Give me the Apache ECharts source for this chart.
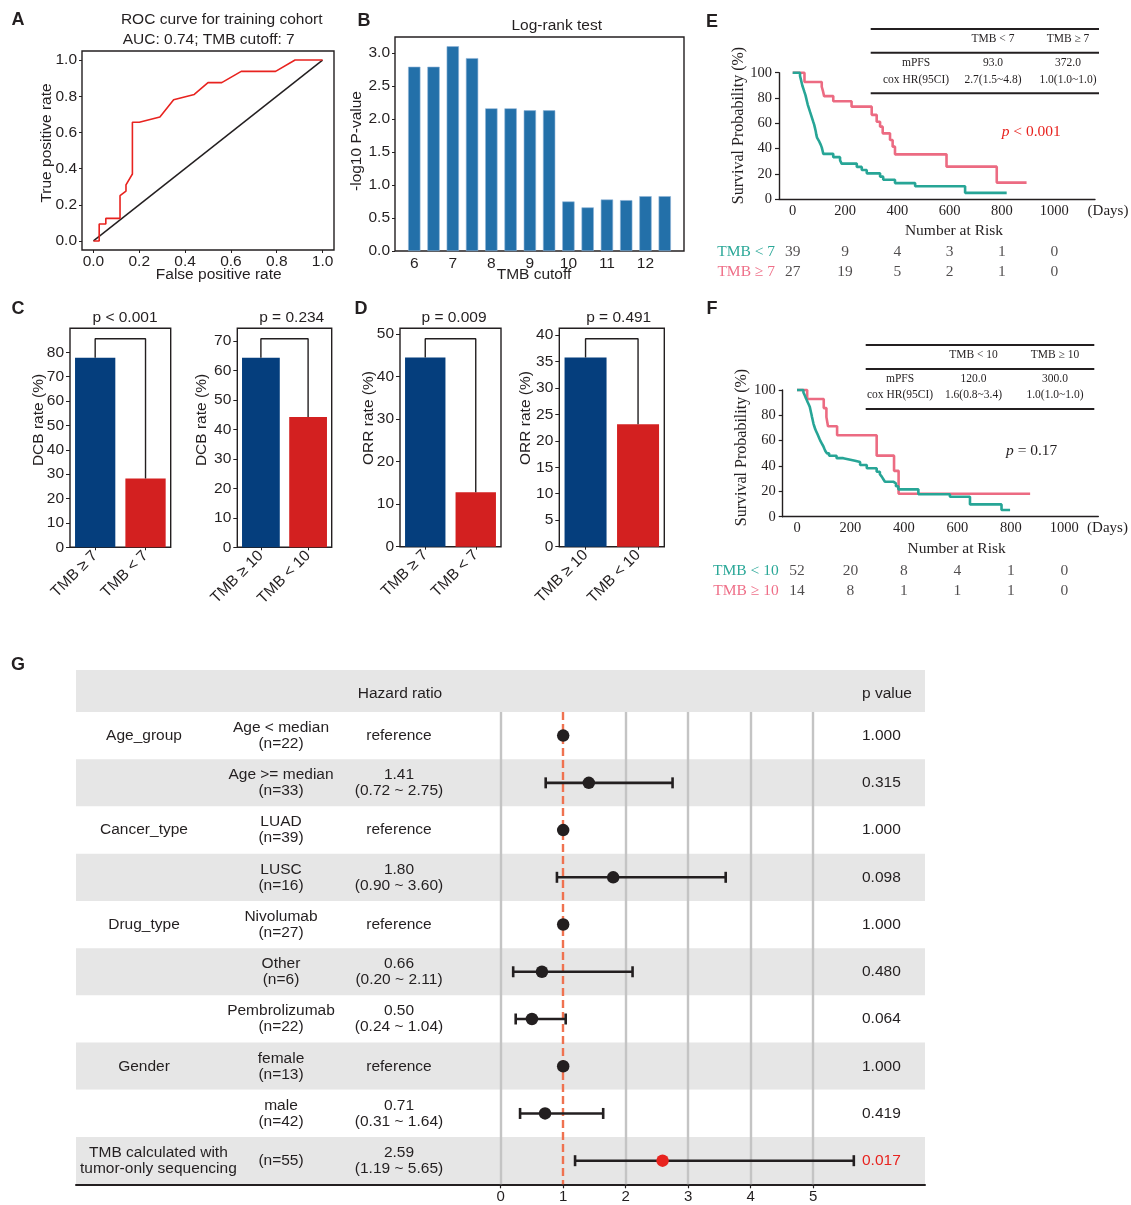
<!DOCTYPE html>
<html>
<head>
<meta charset="utf-8">
<title>TMB cutoff, response and survival analysis</title>
<script src="https://cdn.jsdelivr.net/npm/echarts@6.0.0/dist/echarts.min.js"></script>
<style>
  html, body { margin: 0; padding: 0; background: #ffffff; }
  #chart { width: 1131px; height: 1205px; }
</style>
</head>
<body>
<div id="chart"></div>
<script>
// ---------------- A: ROC curve, training cohort ----------------
const rocFpr = [0, 0.025, 0.025, 0.054, 0.054, 0.116, 0.116, 0.142, 0.142, 0.17, 0.17, 0.20, 0.29, 0.35, 0.44, 0.50, 0.56, 0.645, 0.795, 0.88, 1.0];
const rocTpr = [0, 0, 0.094, 0.094, 0.125, 0.125, 0.25, 0.276, 0.31, 0.37, 0.656, 0.656, 0.685, 0.78, 0.81, 0.875, 0.875, 0.9375, 0.9375, 1.0, 1.0];
const chanceLine = [[0, 0], [1, 1]];
const rocTicks = [0, 0.2, 0.4, 0.6, 0.8, 1.0];

// ---------------- B: log-rank test over TMB cutoffs ----------------
const cutoffs = [6, 6.5, 7, 7.5, 8, 8.5, 9, 9.5, 10, 10.5, 11, 11.5, 12, 12.5];
const logrankScore = [2.79, 2.79, 3.10, 2.92, 2.16, 2.16, 2.13, 2.13, 0.75, 0.66, 0.78, 0.77, 0.83, 0.83];
const cutoffTicks = [6, 7, 8, 9, 10, 11, 12];
const logrankTicks = [0, 0.5, 1.0, 1.5, 2.0, 2.5, 3.0];

// ---------------- C / D: DCB and ORR rates ----------------
const groups7 = ['TMB \u2265 7', 'TMB < 7'];
const groups10 = ['TMB \u2265 10', 'TMB < 10'];
const dcb7 = [77.8, 28.2];
const dcb10 = [64.3, 44.2];
const orr7 = [44.4, 12.8];
const orr10 = [35.7, 23.1];
const pLabels = ['p < 0.001', 'p = 0.234', 'p = 0.009', 'p = 0.491'];
const dcbTicks7 = [0, 10, 20, 30, 40, 50, 60, 70, 80];
const dcbTicks10 = [0, 10, 20, 30, 40, 50, 60, 70];
const orrTicks7 = [0, 10, 20, 30, 40, 50];
const orrTicks10 = [0, 5, 10, 15, 20, 25, 30, 35, 40];

// ---------------- E / F: Kaplan-Meier PFS ----------------
const kmE_low = [[0,100],[28,97.4],[31,94.9],[34,92.3],[37,89.7],[41,87.2],[45,84.6],[49,82.1],[52,79.5],[55,76.9],[58,74.4],[62,71.8],[66,69.2],[70,66.7],[74,64.1],[78,61.5],[82,59.0],[85,56.4],[88,53.8],[90,51.3],[93,48.7],[100,46.2],[106,43.6],[111,41.0],[114,38.5],[117,35.9],[155,33.3],[181,30.8],[187,28.2],[245,25.6],[264,23.1],[283,20.5],[334,17.9],[346,15.4],[391,12.8],[468,10.3],[659,5.1],[818,5.1]];
const kmE_high = [[0,100],[45,92.6],[111,88.9],[116,85.2],[120,81.5],[155,77.4],[225,73.2],[302,66.7],[321,61.3],[334,57.4],[344,52.1],[372,46.8],[382,41.6],[391,35.5],[588,25.8],[780,13.2],[894,13.2]];
const kmF_low = [[0,100],[24,98.1],[28,96.2],[32,94.2],[36,92.3],[40,90.4],[44,88.5],[48,86.5],[50,84.6],[52,82.7],[54,80.8],[56,78.8],[58,76.9],[60,75.0],[62,73.1],[65,71.2],[68,69.2],[72,67.3],[76,65.4],[80,63.5],[84,61.5],[88,59.6],[93,57.7],[98,55.8],[102,53.8],[106,51.9],[112,50.0],[120,48.1],[148,46.2],[173,45.2],[195,44.2],[217,43.2],[236,40.8],[261,38.2],[298,35.5],[310,33.5],[317,31.6],[323,29.6],[329,27.6],[360,26.3],[370,24.0],[379,21.6],[454,17.7],[572,15.8],[647,9.7],[765,5.3],[797,5.3]];
const kmF_high = [[0,100],[38,92.9],[100,85.7],[110,78.6],[116,71.4],[150,64.3],[298,48.2],[363,36.2],[380,18.1],[872,18.1]];
const kmDayTicks = [0, 200, 400, 600, 800, 1000];
const kmPctTicks = [0, 20, 40, 60, 80, 100];

const riskDays = [0, 200, 400, 600, 800, 1000];
const riskGroupsE = ['TMB < 7', 'TMB \u2265 7'];
const riskE_low = [39, 9, 4, 3, 1, 0];
const riskE_high = [27, 19, 5, 2, 1, 0];
const riskGroupsF = ['TMB < 10', 'TMB \u2265 10'];
const riskF_low = [52, 20, 8, 4, 1, 0];
const riskF_high = [14, 8, 1, 1, 1, 0];

const tableE_head = ['', 'TMB < 7', 'TMB \u2265 7'];
const tableE_mpfs = ['mPFS', '93.0', '372.0'];
const tableE_cox = ['cox HR(95CI)', '2.7(1.5~4.8)', '1.0(1.0~1.0)'];
const tableF_head = ['', 'TMB < 10', 'TMB \u2265 10'];
const tableF_mpfs = ['mPFS', '120.0', '300.0'];
const tableF_cox = ['cox HR(95CI)', '1.6(0.8~3.4)', '1.0(1.0~1.0)'];

// ---------------- G: multivariable Cox forest ----------------
const forestGroup = ['Age_group', '', 'Cancer_type', '', 'Drug_type', '', '', 'Gender', '', 'TMB calculated with\ntumor-only sequencing'];
const forestSub = ['Age < median\n(n=22)', 'Age >= median\n(n=33)', 'LUAD\n(n=39)', 'LUSC\n(n=16)', 'Nivolumab\n(n=27)', 'Other\n(n=6)', 'Pembrolizumab\n(n=22)', 'female\n(n=13)', 'male\n(n=42)', '(n=55)'];
const forestHR = [1, 1.41, 1, 1.80, 1, 0.66, 0.50, 1, 0.71, 2.59];
const forestLo = [null, 0.72, null, 0.90, null, 0.20, 0.24, null, 0.31, 1.19];
const forestHi = [null, 2.75, null, 3.60, null, 2.11, 1.04, null, 1.64, 5.65];
const forestP = ['1.000', '0.315', '1.000', '0.098', '1.000', '0.480', '0.064', '1.000', '0.419', '0.017'];
const forestTicks = [0, 1, 2, 3, 4, 5];

// ---------------- styling ----------------
const INK = '#231f20';
const SANS = '"Liberation Sans", Arial, Helvetica, sans-serif';
const SERIF = '"Liberation Serif", "Times New Roman", Times, serif';
const TEAL = '#27a596';
const PINK = '#ec6b82';
const TEAL_TXT = '#2aa898';
const PINK_TXT = '#ef6f88';
const SIG_RED = '#e8231f';
const NAVY = '#053e7d';
const BAR_RED = '#d32020';
const BAR_BLUE = '#2370a9';
const STRIPE = '#e6e6e6';

const grid = [], xAxis = [], yAxis = [], series = [], graphic = [];

function frameGrid(box) {
  return Object.assign({ show: true, borderColor: INK, borderWidth: 1.4, backgroundColor: 'transparent', containLabel: false, outerBoundsMode: 'none' }, box);
}
function plainGrid(box) {
  return Object.assign({ show: false, containLabel: false, outerBoundsMode: 'none' }, box);
}
function font(size, family, extra) {
  return Object.assign({ fontSize: size, fontFamily: family, color: INK }, extra || {});
}
const hiddenLine = { show: false, onZero: false };
function inkLine(w) {
  return { show: true, onZero: false, lineStyle: { color: INK, width: w } };
}
function gText(x, y, text, o) {
  o = o || {};
  const align = o.align || 'center';
  return {
    type: 'text', x: x, y: y, z: 20, silent: true,
    rotation: o.rotate ? Math.PI / 2 : 0,
    style: {
      text: text,
      fill: o.color || INK,
      fontSize: o.size || 15.5,
      fontFamily: o.family || SANS,
      fontWeight: o.bold ? 'bold' : 'normal',
      fontStyle: o.italic ? 'italic' : 'normal',
      align: align, textAlign: align,
      verticalAlign: 'middle', textVerticalAlign: 'middle',
      lineHeight: o.lineHeight,
      rich: o.rich
    }
  };
}
function gLine(x1, y1, x2, y2, w) {
  return { type: 'line', z: 20, silent: true, shape: { x1: x1, y1: y1, x2: x2, y2: y2 }, style: { stroke: INK, lineWidth: w || 1.4 } };
}

// ---- A ----
grid.push(frameGrid({ left: 82, top: 51, width: 252, height: 199 }));
xAxis.push({
  gridIndex: 0, type: 'value', min: -0.05, max: 1.05,
  axisLine: hiddenLine,
  axisTick: { show: true, customValues: rocTicks, length: 3, lineStyle: { color: INK } },
  axisLabel: font(15.5, SANS, { customValues: rocTicks, margin: 4, formatter: v => v.toFixed(1) }),
  splitLine: { show: false }
});
yAxis.push({
  gridIndex: 0, type: 'value', min: -0.05, max: 1.05,
  axisLine: hiddenLine,
  axisTick: { show: true, customValues: rocTicks, length: 3, lineStyle: { color: INK } },
  axisLabel: font(15.5, SANS, { customValues: rocTicks, margin: 5, formatter: v => v.toFixed(1) }),
  splitLine: { show: false }
});
series.push({ type: 'line', xAxisIndex: 0, yAxisIndex: 0, data: chanceLine, showSymbol: false, symbol: 'none', lineStyle: { color: INK, width: 1.5 }, silent: true });
series.push({ type: 'line', xAxisIndex: 0, yAxisIndex: 0, data: rocFpr.map((x, i) => [x, rocTpr[i]]), showSymbol: false, symbol: 'none', lineStyle: { color: SIG_RED, width: 1.6 }, silent: true });

// ---- B ----
grid.push(frameGrid({ left: 395, top: 37, width: 289, height: 214 }));
xAxis.push({
  gridIndex: 1, type: 'value', min: 5.5, max: 13,
  axisLine: hiddenLine, axisTick: { show: false },
  axisLabel: font(15.5, SANS, { customValues: cutoffTicks, margin: 5 }),
  splitLine: { show: false }
});
yAxis.push({
  gridIndex: 1, type: 'value', min: 0, max: 3.24,
  axisLine: hiddenLine,
  axisTick: { show: true, customValues: logrankTicks, length: 3, lineStyle: { color: INK } },
  axisLabel: font(15.5, SANS, { customValues: logrankTicks, margin: 5, formatter: v => v.toFixed(1) }),
  splitLine: { show: false }
});
series.push({
  type: 'bar', xAxisIndex: 1, yAxisIndex: 1, barWidth: 12.3, silent: true,
  data: cutoffs.map((c, i) => [c, logrankScore[i]]),
  itemStyle: { color: BAR_BLUE, borderColor: '#8fb4d6', borderWidth: 0.6 }
});

// ---- C / D ----
function ratePanel(gi, box, cats, vals, ticks) {
  const bracket = Math.max.apply(null, vals) * 1.1;
  const yMax = bracket * 1.05;
  grid.push(frameGrid(box));
  xAxis.push({
    gridIndex: gi, type: 'category', data: cats,
    axisLine: hiddenLine,
    axisTick: { show: true, alignWithLabel: true, length: 3, lineStyle: { color: INK } },
    axisLabel: font(15.5, SANS, { rotate: 45, margin: 6, interval: 0 }),
    splitLine: { show: false }
  });
  yAxis.push({
    gridIndex: gi, type: 'value', min: 0, max: yMax,
    axisLine: hiddenLine,
    axisTick: { show: true, customValues: ticks, length: 4, lineStyle: { color: INK } },
    axisLabel: font(15.5, SANS, { customValues: ticks, margin: 6 }),
    splitLine: { show: false }
  });
  series.push({
    type: 'bar', xAxisIndex: gi, yAxisIndex: gi, barCategoryGap: '20%', silent: true,
    data: vals.map((v, i) => ({ value: v, itemStyle: { color: i === 0 ? NAVY : BAR_RED } }))
  });
  series.push({
    type: 'line', xAxisIndex: gi, yAxisIndex: gi, showSymbol: false, symbol: 'none', silent: true,
    data: [[0, vals[0]], [0, bracket], [1, bracket], [1, vals[1]]],
    lineStyle: { color: INK, width: 1.4 }
  });
}
ratePanel(2, { left: 70, top: 328.3, width: 100.7, height: 219 }, groups7, dcb7, dcbTicks7);
ratePanel(3, { left: 237.3, top: 328.3, width: 94.4, height: 219 }, groups10, dcb10, dcbTicks10);
ratePanel(4, { left: 400, top: 328.3, width: 101, height: 218.4 }, groups7, orr7, orrTicks7);
ratePanel(5, { left: 559.3, top: 328.3, width: 105, height: 218.4 }, groups10, orr10, orrTicks10);

// ---- E / F ----
function kmPanel(gi, box, xMin, xMax, low, high) {
  grid.push(plainGrid(box));
  xAxis.push({
    gridIndex: gi, type: 'value', min: xMin, max: xMax,
    axisLine: inkLine(1.4),
    axisTick: { show: false },
    axisLabel: font(14.5, SERIF, { customValues: kmDayTicks, margin: 4, formatter: v => String(v) }),
    splitLine: { show: false }
  });
  yAxis.push({
    gridIndex: gi, type: 'value', min: 0, max: 100,
    axisLine: inkLine(1.4),
    axisTick: { show: true, customValues: kmPctTicks, length: 4, lineStyle: { color: INK, width: 1.2 } },
    axisLabel: font(14.5, SERIF, { customValues: kmPctTicks, margin: 7, formatter: v => String(v) }),
    splitLine: { show: false }
  });
  series.push({ type: 'line', xAxisIndex: gi, yAxisIndex: gi, step: 'end', data: high, showSymbol: false, symbol: 'none', clip: false, silent: true, lineStyle: { color: PINK, width: 2.6 } });
  series.push({ type: 'line', xAxisIndex: gi, yAxisIndex: gi, step: 'end', data: low, showSymbol: false, symbol: 'none', clip: false, silent: true, lineStyle: { color: TEAL, width: 2.6 } });
}
function riskPanel(gi, box, xMin, xMax, names, low, high) {
  grid.push(plainGrid(box));
  xAxis.push({ gridIndex: gi, type: 'value', min: xMin, max: xMax, show: false, axisLine: hiddenLine });
  yAxis.push({
    gridIndex: gi, type: 'category', inverse: true, data: names,
    axisLine: hiddenLine, axisTick: { show: false },
    axisLabel: {
      margin: 4, interval: 0,
      formatter: (v, idx) => idx === 0 ? '{lo|' + v + '}' : '{hi|' + v + '}',
      rich: {
        lo: { color: TEAL_TXT, fontSize: 15.5, fontFamily: SERIF },
        hi: { color: PINK_TXT, fontSize: 15.5, fontFamily: SERIF }
      }
    },
    splitLine: { show: false }
  });
  [low, high].forEach((counts, row) => {
    series.push({
      type: 'scatter', xAxisIndex: gi, yAxisIndex: gi, symbolSize: 1, silent: true,
      itemStyle: { color: 'rgba(0,0,0,0)' },
      data: riskDays.map((d, j) => [d, row, counts[j]]),
      label: { show: true, position: 'inside', formatter: p => String(p.value[2]), color: INK, fontSize: 15.5, fontFamily: SERIF }
    });
  });
}
kmPanel(6, { left: 779, top: 72.7, width: 316, height: 126.6 }, -52.4, 1155.6, kmE_low, kmE_high);
riskPanel(7, { left: 779, top: 242, width: 316, height: 40 }, -52.4, 1155.6, riskGroupsE, riskE_low, riskE_high);
kmPanel(8, { left: 782.7, top: 390, width: 315.6, height: 126.7 }, -53.5, 1127, kmF_low, kmF_high);
riskPanel(9, { left: 782.7, top: 561, width: 315.6, height: 40 }, -53.5, 1127, riskGroupsF, riskF_low, riskF_high);

// ---- G ----
const measureCtx = document.createElement('canvas').getContext('2d');
function textWidth(s, size, family) {
  measureCtx.font = size + 'px ' + family;
  return Math.max.apply(null, s.split('\n').map(l => measureCtx.measureText(l).width));
}
grid.push(plainGrid({ left: 76, top: 712, width: 849, height: 472.3 }));
xAxis.push({
  gridIndex: 10, type: 'value', min: -6.795, max: 6.789,
  axisLine: inkLine(2),
  axisTick: { show: true, customValues: forestTicks, length: 4, lineStyle: { color: INK, width: 1.2 } },
  axisLabel: font(15, SANS, { customValues: forestTicks, margin: 5 }),
  splitLine: { show: false }
});
yAxis.push({
  gridIndex: 10, type: 'category', inverse: true, data: forestSub,
  axisLine: hiddenLine, axisTick: { show: false }, axisLabel: { show: false },
  splitLine: { show: false },
  splitArea: { show: true, areaStyle: { color: ['#ffffff', STRIPE] } }
});
// vertical guides at each tick, dashed null line at HR = 1
series.push({
  type: 'line', xAxisIndex: 10, yAxisIndex: 10, data: [], silent: true, z: 1,
  markLine: {
    silent: true, z: 1, animation: false, symbol: ['none', 'none'], label: { show: false },
    data: forestTicks.filter(t => t !== 1).map(t => ({ xAxis: t, lineStyle: { color: '#c4c4c4', width: 2.4, type: 'solid' } }))
      .concat([{ xAxis: 1, lineStyle: { color: '#ef7250', width: 2.4, type: [8, 4] } }])
  }
});
series.push({
  type: 'custom', xAxisIndex: 10, yAxisIndex: 10, z: 3, silent: true,
  data: forestHR.map((v, i) => [forestLo[i], forestHi[i], i]).filter(d => d[0] != null),
  encode: { x: [0, 1], y: 2 },
  renderItem: (params, api) => {
    const a = api.coord([api.value(0), api.value(2)]);
    const b = api.coord([api.value(1), api.value(2)]);
    const cap = 5.5;
    const st = { stroke: INK, lineWidth: 2.6 };
    return {
      type: 'group', children: [
        { type: 'line', shape: { x1: a[0], y1: a[1], x2: b[0], y2: b[1] }, style: st },
        { type: 'line', shape: { x1: a[0], y1: a[1] - cap, x2: a[0], y2: a[1] + cap }, style: st },
        { type: 'line', shape: { x1: b[0], y1: b[1] - cap, x2: b[0], y2: b[1] + cap }, style: st }
      ]
    };
  }
});
series.push({
  type: 'scatter', xAxisIndex: 10, yAxisIndex: 10, z: 4, symbolSize: 12.5, silent: true,
  data: forestHR.map((v, i) => [v, i]),
  itemStyle: { color: p => parseFloat(forestP[p.dataIndex]) < 0.05 ? SIG_RED : INK, opacity: 1 }
});
function cellText(x, y, text, align, color) {
  return {
    type: 'text', x: x, y: y,
    style: {
      text: text, fill: color || INK, fontSize: 15.5, fontFamily: SANS, lineHeight: 16,
      align: align, textAlign: align, verticalAlign: 'middle', textVerticalAlign: 'middle'
    }
  };
}
series.push({
  type: 'custom', xAxisIndex: 10, yAxisIndex: 10, z: 5, silent: true,
  data: forestHR.map((v, i) => [0, i]),
  renderItem: (params, api) => {
    const i = params.dataIndex;
    const y = api.coord([0, i])[1];
    const hrText = forestLo[i] == null ? 'reference'
      : forestHR[i].toFixed(2) + '\n(' + forestLo[i].toFixed(2) + ' ~ ' + forestHi[i].toFixed(2) + ')';
    const g = forestGroup[i];
    const gx = Math.max(144, 80 + textWidth(g, 15.5, SANS) / 2);
    const sig = parseFloat(forestP[i]) < 0.05;
    return {
      type: 'group', children: [
        cellText(gx, y, g, 'center'),
        cellText(281, y, forestSub[i], 'center'),
        cellText(399, y, hrText, 'center'),
        cellText(862, y, forestP[i], 'left', sig ? SIG_RED : INK)
      ]
    };
  }
});

// ---------------- free-standing text, frames and tables ----------------
graphic.push({ type: 'rect', z: 0, silent: true, shape: { x: 76, y: 670, width: 849, height: 42 }, style: { fill: STRIPE } });
graphic.push(gText(400, 694, 'Hazard ratio'));
graphic.push(gText(862, 694, 'p value', { align: 'left' }));

[['A', 18, 20], ['B', 364, 21], ['C', 18, 309], ['D', 361, 309], ['E', 712, 22], ['F', 712, 309], ['G', 18, 665]]
  .forEach(l => graphic.push(gText(l[1], l[2], l[0], { bold: true, size: 18 })));

graphic.push(gText(221.7, 20, 'ROC curve for training cohort'));
graphic.push(gText(208.7, 40, 'AUC: 0.74; TMB cutoff: 7'));
graphic.push(gText(218.7, 275, 'False positive rate'));
graphic.push(gText(46.7, 143, 'True positive rate', { rotate: true }));

graphic.push(gText(556.7, 26, 'Log-rank test'));
graphic.push(gText(534, 275, 'TMB cutoff'));
graphic.push(gText(357, 141, '-log10 P-value', { rotate: true }));

graphic.push(gText(125, 317.5, pLabels[0]));
graphic.push(gText(291.7, 317.5, pLabels[1]));
graphic.push(gText(454, 317.5, pLabels[2]));
graphic.push(gText(618.7, 317.5, pLabels[3]));
graphic.push(gText(38.3, 420, 'DCB rate (%)', { rotate: true }));
graphic.push(gText(201.7, 420, 'DCB rate (%)', { rotate: true }));
graphic.push(gText(368.3, 418, 'ORR rate (%)', { rotate: true }));
graphic.push(gText(525.7, 418, 'ORR rate (%)', { rotate: true }));

function kmTable(x1, x2, lineYs, cols, rowYs, rows) {
  lineYs.forEach(y => graphic.push(gLine(x1, y, x2, y, 2)));
  rows.forEach((r, ri) => r.forEach((t, ci) => {
    if (t) graphic.push(gText(cols[ci], rowYs[ri], t, { family: SERIF, size: 11.5 }));
  }));
}
kmTable(870.7, 1099, [29, 52.7, 93.3], [916, 993, 1068], [39.3, 63.3, 80], [tableE_head, tableE_mpfs, tableE_cox]);
kmTable(865.7, 1094.3, [345, 369, 409], [900, 973.5, 1055], [355, 379.3, 395], [tableF_head, tableF_mpfs, tableF_cox]);

graphic.push(gText(738.3, 125.5, 'Survival Probability (%)', { rotate: true, family: SERIF, size: 16 }));
graphic.push(gText(741.7, 447.5, 'Survival Probability (%)', { rotate: true, family: SERIF, size: 16 }));
graphic.push(gText(1108, 210.7, '(Days)', { family: SERIF, size: 15 }));
graphic.push(gText(1107.5, 527.7, '(Days)', { family: SERIF, size: 15 }));
graphic.push(gText(954, 231, 'Number at Risk', { family: SERIF, size: 15.5 }));
graphic.push(gText(956.7, 549, 'Number at Risk', { family: SERIF, size: 15.5 }));
graphic.push(gText(1001.7, 131.7, '{i|p} < 0.001', {
  align: 'left', family: SERIF, size: 15.5, color: SIG_RED,
  rich: { i: { fontStyle: 'italic', fontFamily: SERIF, fontSize: 15.5, fill: SIG_RED, color: SIG_RED } }
}));
graphic.push(gText(1006, 451, '{i|p} = 0.17', {
  align: 'left', family: SERIF, size: 15.5,
  rich: { i: { fontStyle: 'italic', fontFamily: SERIF, fontSize: 15.5, fill: INK, color: INK } }
}));

const chart = echarts.init(document.getElementById('chart'), null, { renderer: 'canvas' });
chart.setOption({
  animation: false,
  backgroundColor: '#ffffff',
  grid: grid,
  xAxis: xAxis,
  yAxis: yAxis,
  series: series,
  graphic: { elements: graphic }
});
</script>
</body>
</html>
